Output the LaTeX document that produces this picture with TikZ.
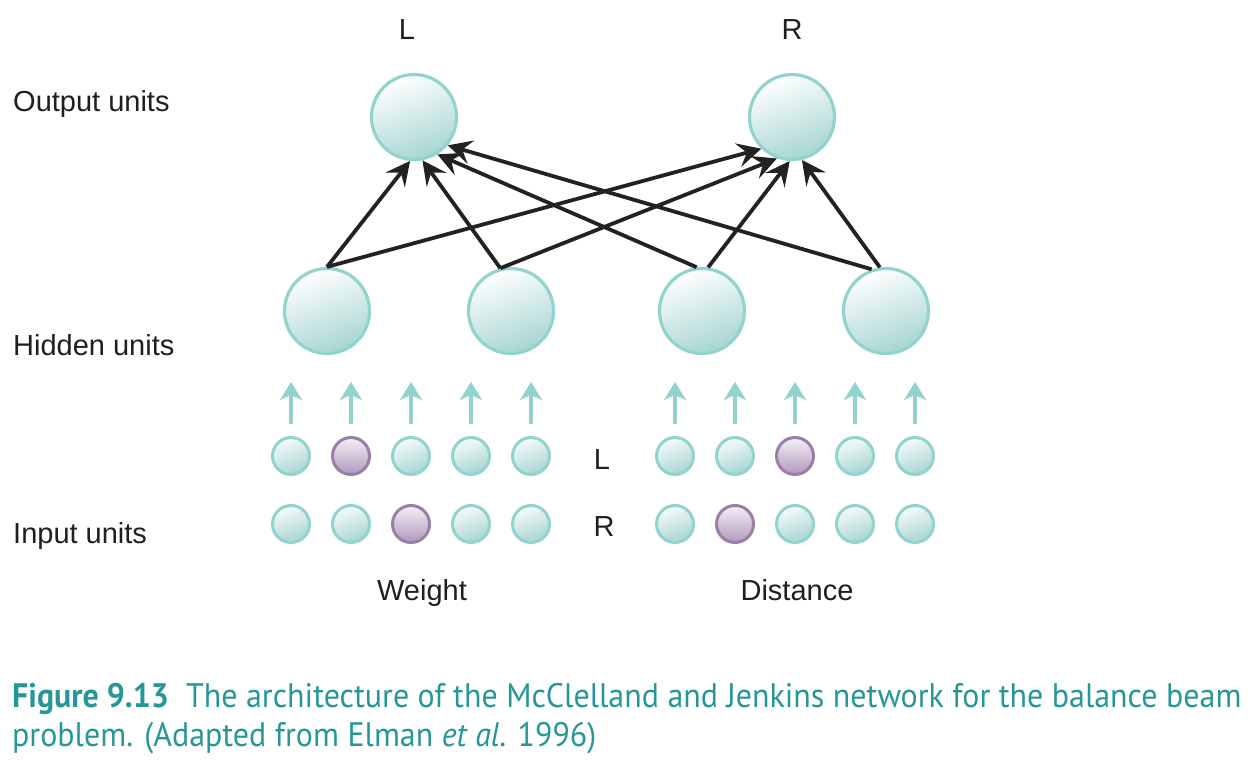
\documentclass[tikz,border=0pt]{standalone}
\usepackage{fontspec}
\setmainfont{Liberation Sans}
\newfontfamily\capfont[FakeStretch=0.94]{PT Sans}
\usetikzlibrary{arrows.meta}
\definecolor{tealrim}{RGB}{147,211,205}
\definecolor{tealfill}{RGB}{166,213,210}
\definecolor{purprim}{RGB}{155,127,168}
\definecolor{purpfill}{RGB}{178,152,190}
\definecolor{linkblack}{RGB}{34,34,34}
\definecolor{captext}{RGB}{38,150,150}
\tikzset{
  bigunit/.style={circle, draw=tealrim, line width=3.2pt, minimum size=85pt, inner sep=0pt,
    top color=white, bottom color=tealfill, shading angle=20},
  smallunit/.style={circle, draw=tealrim, line width=3pt, minimum size=37pt, inner sep=0pt,
    top color=white!90!tealfill, bottom color=tealfill, shading angle=20},
  onunit/.style={smallunit, draw=purprim, top color=white!85!purpfill, bottom color=purpfill},
  link/.style={draw=linkblack, line width=3.8pt, -{Stealth[length=24pt,width=24pt,inset=9pt]}},
  feed/.style={draw=tealrim, line width=3.8pt, -{Stealth[length=18pt,width=22pt,inset=5pt]}},
  lbl/.style={inner sep=0pt, font=\fontsize{29}{34}\selectfont, text=black!88},
  captionline/.style={inner sep=0pt, anchor=base west, font=\capfont\fontsize{34}{39}\selectfont, text=captext}
}
\begin{document}
\begin{tikzpicture}[x=1pt,y=-1pt]
\useasboundingbox (0,0) rectangle (1252,778);
% labels
\node[lbl, anchor=base] (tL) at (407,40) {L};
\node[lbl, anchor=base] (tR) at (792,40) {R};
\node[lbl, anchor=base west] (outlbl) at (13,112) {Output units};
\node[lbl, anchor=base west] (hidlbl) at (13,355) {Hidden units};
\node[lbl, anchor=base west] (inlbl) at (13,543) {Input units};
\node[lbl, anchor=base] (mL) at (602,469) {L};
\node[lbl, anchor=base] (mR) at (604,536) {R};
\node[lbl, anchor=base] (wt) at (422,600) {Weight};
\node[lbl, anchor=base] (ds) at (797,600) {Distance};
% output units
\node[bigunit] (oL) at (414,117) {};
\node[bigunit] (oR) at (792,117) {};
% hidden units
\node[bigunit] (h1) at (327,311) {};
\node[bigunit] (h2) at (511,311) {};
\node[bigunit] (h3) at (702,311) {};
\node[bigunit] (h4) at (886,311) {};
% connections
\draw[link] (h1.90) -- (oL.-95);
\draw[link] (h2.104) -- (oL.-79);
\draw[link] (h3.97) -- (oL.-58);
\draw[link] (h4.109) -- (oL.-40);
\draw[link] (h1.90) -- (oR.-134);
\draw[link] (h2.104) -- (oR.-110);
\draw[link] (h3.82) -- (oR.-93);
\draw[link] (h4.98) -- (oR.-77);
% input units
\foreach \i/\x/\sl/\sr in {1/291/smallunit/smallunit, 2/351/onunit/smallunit, 3/411/smallunit/onunit, 4/471/smallunit/smallunit, 5/531/smallunit/smallunit,
  6/675/smallunit/smallunit, 7/735/smallunit/onunit, 8/795/onunit/smallunit, 9/855/smallunit/smallunit, 10/915/smallunit/smallunit}{
  \node[\sl] (l\i) at (\x,456) {};
  \node[\sr] (r\i) at (\x,524) {};
  \coordinate (fb\i) at ([yshift=12pt]l\i.north);
  \coordinate (ft\i) at ([yshift=54pt]l\i.north);
  \draw[feed] (fb\i) -- (ft\i);
}
% caption
\node[captionline] (cap1) at (12,707) {\textbf{Figure 9.13}\hspace{0.5em}The architecture of the McClelland and Jenkins network for the balance beam};
\node[captionline] (cap2) at (12,746) {problem. (Adapted from Elman \textit{et al}. 1996)};
\end{tikzpicture}
\end{document}
